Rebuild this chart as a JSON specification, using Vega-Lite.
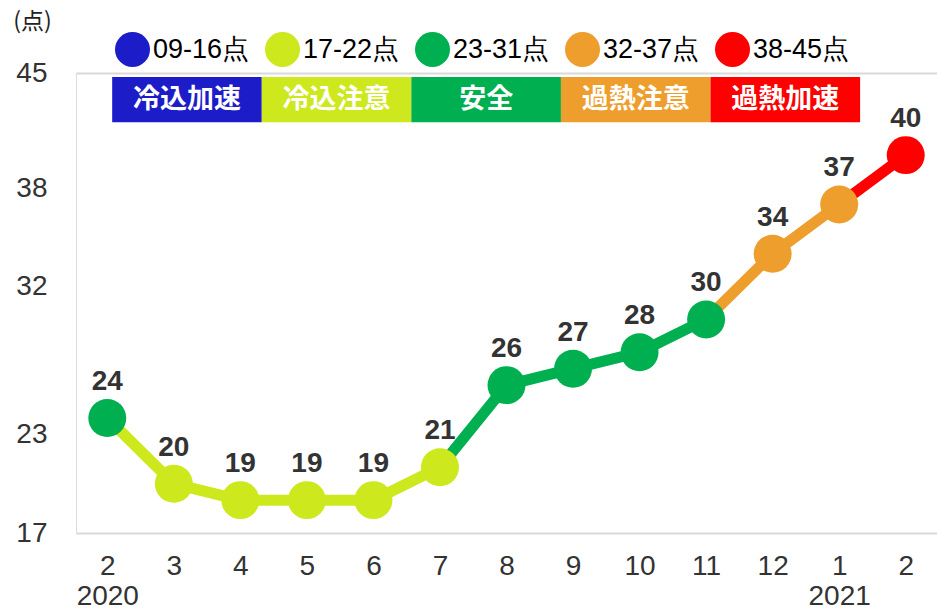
{
  "$schema": "https://vega.github.io/schema/vega-lite/v6.json",
  "width": 861,
  "height": 460,
  "autosize": {"type": "none"},
  "padding": {"left": 76, "top": 73, "right": 0, "bottom": 79},
  "background": "white",
  "datasets": {
    "pts": [
      {"ym": "2020-2", "v": 24, "cat": "23-31点"},
      {"ym": "2020-3", "v": 20, "cat": "17-22点"},
      {"ym": "2020-4", "v": 19, "cat": "17-22点"},
      {"ym": "2020-5", "v": 19, "cat": "17-22点"},
      {"ym": "2020-6", "v": 19, "cat": "17-22点"},
      {"ym": "2020-7", "v": 21, "cat": "17-22点"},
      {"ym": "2020-8", "v": 26, "cat": "23-31点"},
      {"ym": "2020-9", "v": 27, "cat": "23-31点"},
      {"ym": "2020-10", "v": 28, "cat": "23-31点"},
      {"ym": "2020-11", "v": 30, "cat": "23-31点"},
      {"ym": "2020-12", "v": 34, "cat": "32-37点"},
      {"ym": "2021-1", "v": 37, "cat": "32-37点"},
      {"ym": "2021-2", "v": 40, "cat": "38-45点"}
    ],
    "segs": [
      {"seg": "a", "ym": "2020-2", "v": 24, "cat": "17-22点"},
      {"seg": "a", "ym": "2020-3", "v": 20, "cat": "17-22点"},
      {"seg": "a", "ym": "2020-4", "v": 19, "cat": "17-22点"},
      {"seg": "a", "ym": "2020-5", "v": 19, "cat": "17-22点"},
      {"seg": "a", "ym": "2020-6", "v": 19, "cat": "17-22点"},
      {"seg": "a", "ym": "2020-7", "v": 21, "cat": "17-22点"},
      {"seg": "b", "ym": "2020-7", "v": 21, "cat": "23-31点"},
      {"seg": "b", "ym": "2020-8", "v": 26, "cat": "23-31点"},
      {"seg": "b", "ym": "2020-9", "v": 27, "cat": "23-31点"},
      {"seg": "b", "ym": "2020-10", "v": 28, "cat": "23-31点"},
      {"seg": "b", "ym": "2020-11", "v": 30, "cat": "23-31点"},
      {"seg": "c", "ym": "2020-11", "v": 30, "cat": "32-37点"},
      {"seg": "c", "ym": "2020-12", "v": 34, "cat": "32-37点"},
      {"seg": "c", "ym": "2021-1", "v": 37, "cat": "32-37点"},
      {"seg": "d", "ym": "2021-1", "v": 37, "cat": "38-45点"},
      {"seg": "d", "ym": "2021-2", "v": 40, "cat": "38-45点"}
    ],
    "boxes": [
      {"name": "冷込加速", "cat": "09-16点"},
      {"name": "冷込注意", "cat": "17-22点"},
      {"name": "安全", "cat": "23-31点"},
      {"name": "過熱注意", "cat": "32-37点"},
      {"name": "過熱加速", "cat": "38-45点"}
    ]
  },
  "resolve": {"scale": {"x": "independent"}, "axis": {"x": "independent"}},
  "layer": [
    {
      "encoding": {
        "x": {
          "field": "ym",
          "type": "nominal",
          "scale": {
            "type": "point",
            "padding": 0.47,
            "domain": ["2020-2","2020-3","2020-4","2020-5","2020-6","2020-7","2020-8","2020-9","2020-10","2020-11","2020-12","2021-1","2021-2"]
          },
          "axis": {
            "title": null,
            "labelAngle": 0,
            "ticks": false,
            "domain": false,
            "labelFont": "Liberation Sans",
            "labelFontSize": 28,
            "labelColor": "#333333",
            "labelPadding": 19,
            "labelLineHeight": 30,
            "labelExpr": "datum.value=='2020-2' ? ['2','2020'] : datum.value=='2021-1' ? ['1','2021'] : split(datum.value,'-')[1]"
          }
        },
        "y": {
          "field": "v",
          "type": "quantitative",
          "scale": {"domain": [17, 45], "nice": false, "zero": false},
          "axis": {
            "title": "(点)",
            "titleAngle": 0,
            "titleX": -44,
            "titleY": -52,
            "titleAlign": "center",
            "titleBaseline": "middle",
            "titleFont": "Noto Sans CJK JP",
            "titleFontSize": 23,
            "titleFontWeight": "normal",
            "titleColor": "#222222",
            "values": [17, 23, 32, 38, 45],
            "ticks": false,
            "domain": false,
            "labelFont": "Liberation Sans",
            "labelFontSize": 28,
            "labelColor": "#333333",
            "labelPadding": 29,
            "gridColor": {"condition": {"test": "datum.value == 17 || datum.value == 45", "value": "#d9d9d9"}, "value": "transparent"},
            "gridWidth": 2
          }
        }
      },
      "layer": [
        {"mark": {"type": "rule", "color": "#00B050", "strokeWidth": 3, "strokeDash": [3, 4]}, "encoding": {"x": null, "y": {"datum": 23, "type": "quantitative"}}},
        {"mark": {"type": "rule", "color": "#FFC000", "strokeWidth": 3, "strokeDash": [3, 4]}, "encoding": {"x": null, "y": {"datum": 32, "type": "quantitative"}}},
        {"mark": {"type": "rule", "color": "#FF0000", "strokeWidth": 3, "strokeDash": [3, 4]}, "encoding": {"x": null, "y": {"datum": 38, "type": "quantitative"}}},
        {
          "data": {"name": "segs"},
          "mark": {"type": "line", "strokeWidth": 11},
          "encoding": {
            "detail": {"field": "seg"},
            "color": {"field": "cat", "type": "nominal"}
          }
        },
        {
          "data": {"name": "pts"},
          "mark": {"type": "circle", "opacity": 1, "size": 1440},
          "encoding": {
            "color": {
              "field": "cat",
              "type": "nominal",
              "scale": {"domain": ["09-16点","17-22点","23-31点","32-37点","38-45点"], "range": ["#1C1CC9","#CDE81C","#00B050","#EE9E2C","#FF0000"]},
              "legend": {
                "title": null,
                "orient": "none",
                "legendX": 39,
                "legendY": -41,
                "direction": "horizontal",
                "gridAlign": "all",
                "symbolType": "circle",
                "symbolSize": 1225,
                "symbolStrokeWidth": 0,
                "symbolOpacity": 1,
                "labelFont": "Liberation Sans",
                "labelFontSize": 27,
                "labelColor": "#000000",
                "labelOffset": 3,
                "columnPadding": 15
              }
            }
          }
        },
        {
          "data": {"name": "pts"},
          "mark": {"type": "text", "dy": -36, "font": "Liberation Sans", "fontSize": 28, "fontWeight": "bold", "color": "#333333", "baseline": "middle"},
          "encoding": {"text": {"field": "v", "type": "quantitative"}}
        }
      ]
    },
    {
      "data": {"name": "boxes"},
      "encoding": {
        "x": {
          "field": "name",
          "type": "nominal",
          "sort": null,
          "scale": {"type": "band", "paddingInner": 0, "paddingOuter": 0.378, "align": 0.32},
          "axis": null
        }
      },
      "layer": [
        {
          "mark": {"type": "rect", "opacity": 1},
          "encoding": {
            "y": {"datum": 44.75, "type": "quantitative"},
            "y2": {"datum": 42.0},
            "color": {"field": "cat", "type": "nominal"}
          }
        },
        {
          "mark": {"type": "text", "font": "Noto Sans CJK JP", "fontSize": 27, "fontWeight": "bold", "color": "white", "baseline": "middle"},
          "encoding": {
            "y": {"datum": 43.375, "type": "quantitative"},
            "text": {"field": "name"}
          }
        }
      ]
    }
  ]
}
